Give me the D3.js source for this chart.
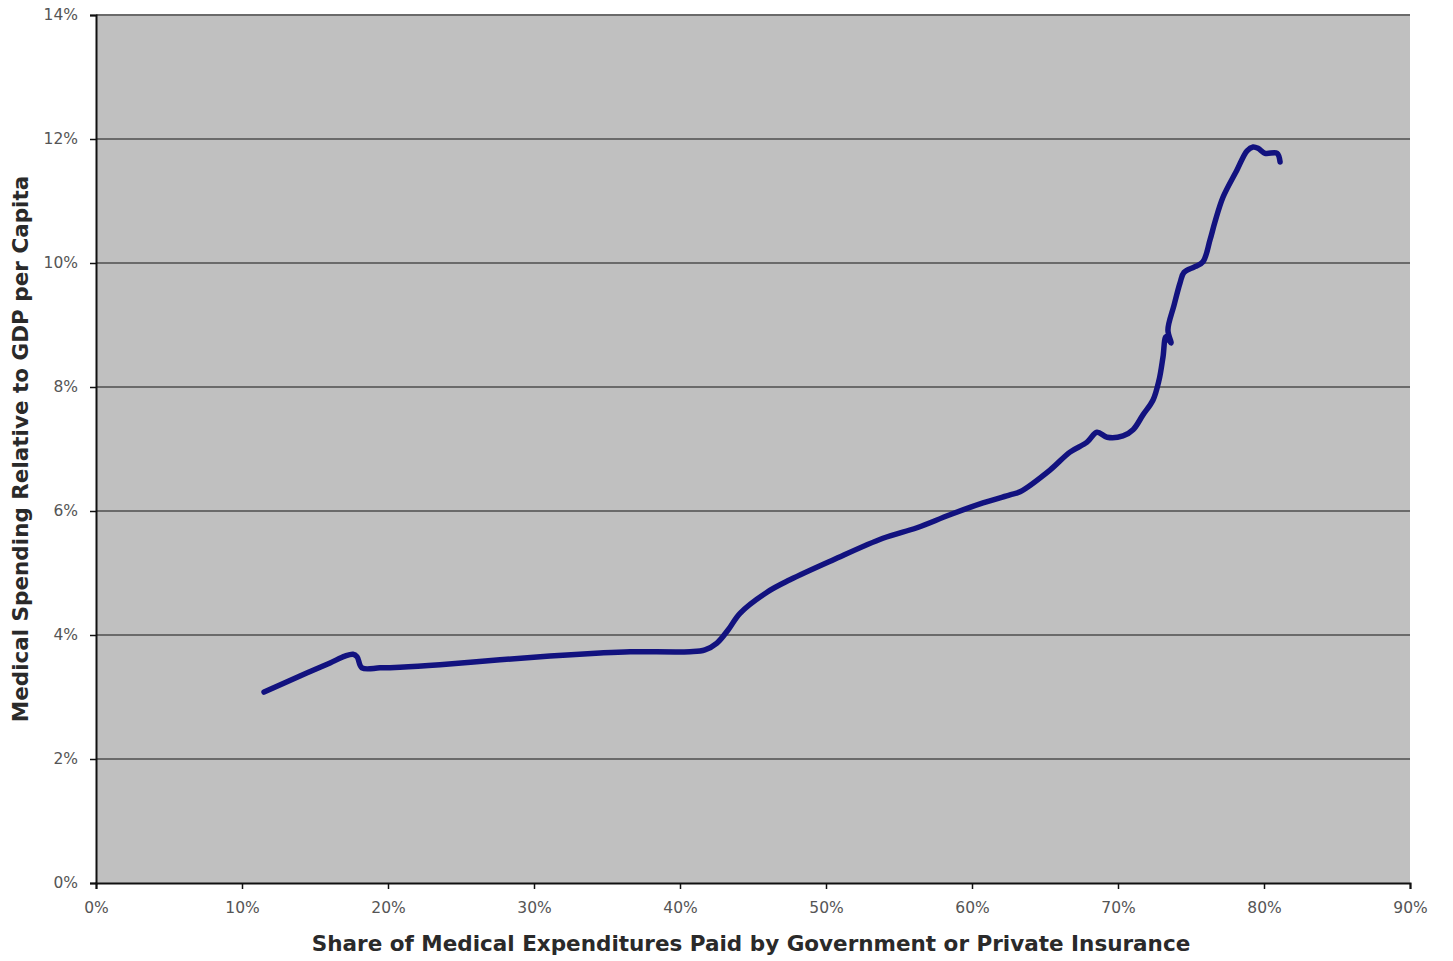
<!DOCTYPE html>
<html>
<head>
<meta charset="utf-8">
<script src="https://cdn.jsdelivr.net/npm/d3@7"></script>
<style>
  html, body { margin: 0; padding: 0; background: #ffffff; }
  svg { display: block; }
</style>
</head>
<body>
<svg id="chart" width="1453" height="961"></svg>
<script>
// Share of medical expenditures paid by government or private insurance (%)
const shareInsured = [11.51, 13.97, 16.03, 17.05, 17.60, 17.88, 18.22, 19.45, 20.82, 23.56,
  27.67, 31.10, 34.52, 36.58, 40.68, 41.71, 42.53, 43.29, 44.11, 45.96,
  47.53, 50.48, 53.90, 56.23, 58.49, 60.75, 62.60, 63.29, 65.34, 66.71,
  67.88, 68.56, 69.25, 70.34, 71.03, 71.71, 72.40, 72.81, 73.08, 73.29,
  73.63, 73.42, 73.84, 74.25, 74.52, 75.27, 75.82, 76.30, 76.64, 77.19,
  78.15, 78.84, 79.25, 79.59, 80.07, 80.89, 81.10];
// Medical spending relative to GDP per capita (%)
const spendingRel = [3.08, 3.34, 3.55, 3.66, 3.69, 3.65, 3.47, 3.47, 3.48, 3.52,
  3.60, 3.66, 3.71, 3.73, 3.73, 3.76, 3.87, 4.08, 4.35, 4.69,
  4.89, 5.21, 5.56, 5.73, 5.94, 6.13, 6.26, 6.31, 6.66, 6.95,
  7.11, 7.27, 7.19, 7.21, 7.31, 7.55, 7.79, 8.11, 8.48, 8.81,
  8.71, 8.92, 9.32, 9.68, 9.85, 9.94, 10.02, 10.37, 10.66, 11.06,
  11.50, 11.81, 11.87, 11.85, 11.77, 11.77, 11.63];
const xTicks = [0, 10, 20, 30, 40, 50, 60, 70, 80, 90];
const yTicks = [0, 2, 4, 6, 8, 10, 12, 14];
const xTitle = "Share of Medical Expenditures Paid by Government or Private Insurance";
const yTitle = "Medical Spending Relative to GDP per Capita";

const svg = d3.select("#chart");
const margin = {left: 96, right: 43, top: 15, bottom: 78};
const W = 1453, H = 961;
const x = d3.scaleLinear().domain([0, 90]).range([margin.left, W - margin.right]);
const y = d3.scaleLinear().domain([0, 14]).range([H - margin.bottom, margin.top]);

// plot background
svg.append("rect")
  .attr("x", x(0)).attr("y", y(14))
  .attr("width", x(90) - x(0)).attr("height", y(0) - y(14))
  .attr("fill", "#c0c0c0");

// gridlines
svg.append("g").selectAll("line")
  .data(yTicks.filter(d => d > 0))
  .join("line")
  .attr("x1", x(0)).attr("x2", x(90))
  .attr("y1", d => y(d)).attr("y2", d => y(d))
  .attr("stroke", "#6a6a6a").attr("stroke-width", 2);

const font = "'DejaVu Sans', Verdana, sans-serif";

// y axis
const yAxis = svg.append("g")
  .attr("transform", `translate(${x(0)},0)`)
  .call(d3.axisLeft(y).tickValues(yTicks).tickFormat(d => d + "%").tickSize(6).tickPadding(12));
// x axis
const xAxis = svg.append("g")
  .attr("transform", `translate(0,${y(0)})`)
  .call(d3.axisBottom(x).tickValues(xTicks).tickFormat(d => d + "%").tickSize(6).tickPadding(13));

[yAxis, xAxis].forEach(g => {
  g.select(".domain").attr("stroke", "#111").attr("stroke-width", 2);
  g.selectAll(".tick line").attr("stroke", "#111").attr("stroke-width", 1.5);
  g.selectAll(".tick text").attr("fill", "#555").style("font-family", font).style("font-size", "15.5px");
});

// data line
const pts = shareInsured.map((v, i) => [v, spendingRel[i]]);
svg.append("path")
  .datum(pts)
  .attr("fill", "none")
  .attr("stroke", "#12127f")
  .attr("stroke-width", 5.5)
  .attr("stroke-linejoin", "round")
  .attr("stroke-linecap", "round")
  .attr("d", d3.line().x(d => x(d[0])).y(d => y(d[1])).curve(d3.curveCatmullRom.alpha(0.5)));

// axis titles
svg.append("text")
  .attr("x", 751).attr("y", 951)
  .attr("text-anchor", "middle")
  .style("font-family", font).style("font-size", "21.5px").style("font-weight", "bold")
  .attr("fill", "#2a2a2a")
  .text(xTitle);

svg.append("text")
  .attr("transform", `translate(28,${449}) rotate(-90)`)
  .attr("text-anchor", "middle")
  .style("font-family", font).style("font-size", "21.5px").style("font-weight", "bold")
  .attr("fill", "#2a2a2a")
  .text(yTitle);
</script>
</body>
</html>
